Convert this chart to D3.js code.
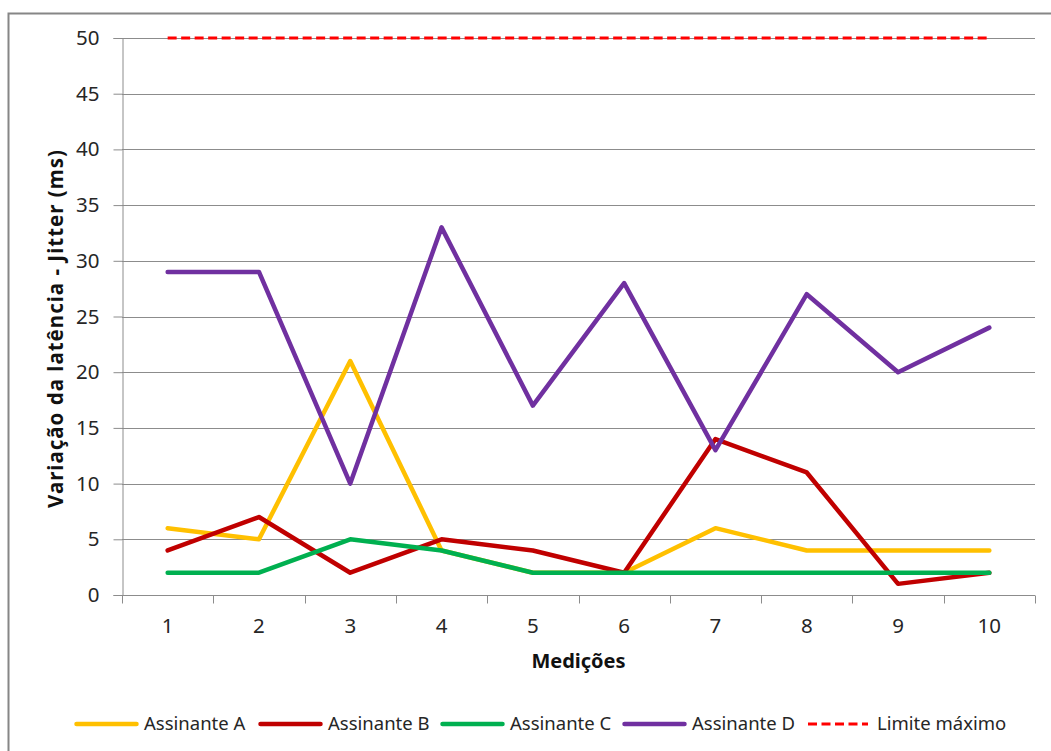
<!DOCTYPE html>
<html>
<head>
<meta charset="utf-8">
<script src="https://cdn.jsdelivr.net/npm/d3@7"></script>
<style>
  html, body { margin: 0; padding: 0; background: #fff; }
  svg { display: block; font-family: "Noto Sans", "Open Sans", sans-serif; }
</style>
</head>
<body>
<svg id="chart" width="1051" height="751"></svg>
<script>
// Measurements (medições) 1..10
const medicoes = [1, 2, 3, 4, 5, 6, 7, 8, 9, 10];
// Jitter in ms per subscriber
const assinanteA = [6, 5, 21, 4, 2, 2, 6, 4, 4, 4];
const assinanteB = [4, 7, 2, 5, 4, 2, 14, 11, 1, 2];
const assinanteC = [2, 2, 5, 4, 2, 2, 2, 2, 2, 2];
const assinanteD = [29, 29, 10, 33, 17, 28, 13, 27, 20, 24];
const limiteMaximo = [50, 50, 50, 50, 50, 50, 50, 50, 50, 50];
const yTicks = [0, 5, 10, 15, 20, 25, 30, 35, 40, 45, 50];

const series = [
  { name: "Assinante A", values: assinanteA, color: "#FFC000", dash: null },
  { name: "Assinante B", values: assinanteB, color: "#C00000", dash: null },
  { name: "Assinante C", values: assinanteC, color: "#00B050", dash: null },
  { name: "Assinante D", values: assinanteD, color: "#7030A0", dash: null },
  { name: "Limite máximo", values: limiteMaximo, color: "#FF0000", dash: "9,4.5" }
];

const svg = d3.select("#chart");
const textColor = "#262626";

// outer chart frame
svg.append("rect")
  .attr("x", 8.5).attr("y", 13.5)
  .attr("width", 1060).attr("height", 760)
  .attr("fill", "#fff")
  .attr("stroke", "#868686").attr("stroke-width", 2);

const plot = { left: 122, right: 1035, top: 38, bottom: 595 };

const x = d3.scaleBand().domain(medicoes).range([plot.left, plot.right]).padding(0);
const y = d3.scaleLinear().domain([0, 50]).range([plot.bottom, plot.top]);
const cx = d => x(d) + x.bandwidth() / 2;

// horizontal gridlines
svg.append("g")
  .selectAll("line")
  .data(yTicks.filter(t => t > 0))
  .join("line")
  .attr("x1", plot.left).attr("x2", plot.right)
  .attr("y1", d => Math.round(y(d)) + 0.5).attr("y2", d => Math.round(y(d)) + 0.5)
  .attr("stroke", "#8c8c8c").attr("stroke-width", 1);

// y axis
const yAxis = svg.append("g")
  .attr("transform", `translate(${plot.left + 0.5},0)`)
  .call(d3.axisLeft(y).tickValues(yTicks).tickSize(9).tickPadding(14).tickFormat(d3.format("d")));
yAxis.select(".domain").attr("stroke", "#8c8c8c");
yAxis.selectAll(".tick line").attr("stroke", "#8c8c8c");
yAxis.selectAll(".tick text")
  .attr("font-size", 20.5).attr("fill", textColor)
  .attr("font-family", "'Noto Sans', sans-serif");

// x axis with ticks at category boundaries
const xAxisG = svg.append("g")
  .attr("transform", `translate(0,${plot.bottom + 0.5})`);
xAxisG.append("line")
  .attr("x1", plot.left).attr("x2", plot.right)
  .attr("stroke", "#8c8c8c");
const boundaries = medicoes.map(d => x(d)).concat([plot.right]);
xAxisG.selectAll("line.tk")
  .data(boundaries)
  .join("line").attr("class", "tk")
  .attr("x1", d => Math.round(d) + 0.5).attr("x2", d => Math.round(d) + 0.5)
  .attr("y1", 0).attr("y2", 8)
  .attr("stroke", "#8c8c8c");
xAxisG.selectAll("text")
  .data(medicoes)
  .join("text")
  .attr("x", d => cx(d)).attr("y", 37.5)
  .attr("text-anchor", "middle")
  .attr("font-size", 20.5).attr("fill", textColor)
  .text(d => d);

// axis titles
svg.append("text")
  .attr("x", (plot.left + plot.right) / 2).attr("y", 668)
  .attr("text-anchor", "middle")
  .attr("font-size", 20).attr("font-weight", "bold").attr("fill", "#111")
  .text("Medições");
svg.append("text")
  .attr("transform", "translate(63,329) rotate(-90)")
  .attr("text-anchor", "middle")
  .attr("font-size", 20.5).attr("font-weight", "bold").attr("fill", "#111")
  .attr("textLength", 358).attr("lengthAdjust", "spacing")
  .text("Variação da latência - Jitter (ms)");

// series lines
const line = d3.line()
  .x((d, i) => cx(medicoes[i]))
  .y(d => y(d));

svg.append("g")
  .selectAll("path")
  .data(series)
  .join("path")
  .attr("d", s => line(s.values))
  .attr("fill", "none")
  .attr("stroke", s => s.color)
  .attr("stroke-width", s => s.dash ? 3 : 4.5)
  .attr("stroke-dasharray", s => s.dash)
  .attr("stroke-linejoin", "round")
  .attr("stroke-linecap", s => s.dash ? "butt" : "round");

// legend
const legendX = [75, 259, 441, 623, 808];
const legend = svg.append("g").selectAll("g")
  .data(series)
  .join("g")
  .attr("transform", (s, i) => `translate(${legendX[i]},724)`);
legend.append("line")
  .attr("x1", s => s.dash ? 0 : 1.5).attr("x2", s => s.dash ? 60 : 61.5)
  .attr("y1", 0).attr("y2", 0)
  .attr("stroke", s => s.color)
  .attr("stroke-width", s => s.dash ? 3 : 4.5)
  .attr("stroke-dasharray", s => s.dash)
  .attr("stroke-linecap", s => s.dash ? "butt" : "round");
legend.append("text")
  .attr("x", 69).attr("y", 5.5)
  .attr("font-size", 18.5).attr("fill", textColor)
  .text(s => s.name);
</script>
</body>
</html>
